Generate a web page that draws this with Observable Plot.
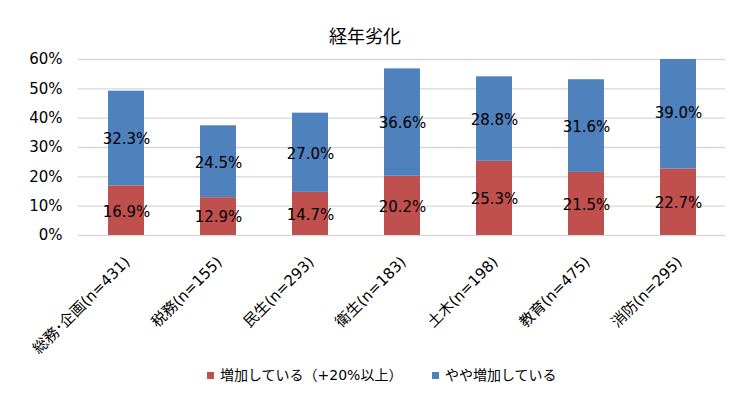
<!DOCTYPE html>
<html>
<head>
<meta charset="utf-8">
<script src="https://cdn.jsdelivr.net/npm/d3@7"></script>
<script src="https://cdn.jsdelivr.net/npm/@observablehq/plot@0.6"></script>
<style>
  html, body { margin: 0; padding: 0; background: #fff; }
  body { width: 750px; height: 399px; overflow: hidden; font-family: "DejaVu Sans", "Noto Sans CJK JP", sans-serif; }
  #title { height: 48px; box-sizing: border-box; padding-top: 24px; text-align: center; font-size: 18px; line-height: 22px; color: #000; font-family: "Noto Sans CJK JP", sans-serif; }
  #title span { position: relative; left: -10px; }
  #legend { height: 44px; box-sizing: border-box; padding-top: 10px; line-height: 20px; font-size: 14px; color: #000; position: relative; }
  .item { position: absolute; top: 10px; white-space: nowrap; }
  .sw { display: inline-block; width: 7px; height: 7px; margin-right: 6px; vertical-align: 1px; }
</style>
</head>
<body>
<div id="title"><span>経年劣化</span></div>
<div id="chart"></div>
<div id="legend"></div>
<script>
const title = "経年劣化";
const categories = ["総務･企画(n=431)", "税務(n=155)", "民生(n=293)", "衛生(n=183)", "土木(n=198)", "教育(n=475)", "消防(n=295)"];
const seriesNames = ["増加している（+20%以上）", "やや増加している"];
const increased = [16.9, 12.9, 14.7, 20.2, 25.3, 21.5, 22.7];
const slightlyIncreased = [32.3, 24.5, 27.0, 36.6, 28.8, 31.6, 39.0];
const yTicks = [0, 10, 20, 30, 40, 50, 60];
const colors = ["#C0504D", "#4F81BD"];

const data = [];
categories.forEach((c, i) => {
  data.push({category: c, series: seriesNames[0], value: increased[i]});
  data.push({category: c, series: seriesNames[1], value: slightlyIncreased[i]});
});

const chart = Plot.plot({
  width: 750,
  height: 307,
  marginTop: 11,
  marginBottom: 120,
  marginLeft: 78,
  marginRight: 25,
  style: {fontFamily: '"DejaVu Sans", "Noto Sans CJK JP", sans-serif', fontSize: "15px", color: "#000", background: "#fff", overflow: "visible"},
  x: {domain: categories, paddingInner: 0.61, paddingOuter: 0.305, label: null, axis: null},
  y: {domain: [0, 60], label: null, axis: null},
  color: {domain: seriesNames, range: colors},
  marks: [
    Plot.ruleY(yTicks, {stroke: "#d9d9d9", strokeWidth: 1.3}),
    Plot.barY(data, {x: "category", y: "value", fill: "series", order: seriesNames, clip: true}),
    Plot.text(data, Plot.stackY({x: "category", y: "value", z: "series", order: seriesNames, text: d => d.value.toFixed(1) + "%", fill: "#000", fontSize: 15, dy: 1})),
    Plot.axisY({ticks: yTicks, tickFormat: d => d + "%", tickSize: 0, tickPadding: 16, fontSize: 15, fill: "#000"}),
    Plot.text(categories, {x: d => d, frameAnchor: "bottom", rotate: -45, textAnchor: "end", lineAnchor: "middle", dy: 24, dx: 1, fontSize: 15, fill: "#000"})
  ]
});
document.getElementById("chart").appendChild(chart);

const legend = document.getElementById("legend");
const lx = [207, 432];
seriesNames.forEach((s, i) => {
  const it = document.createElement("div");
  it.className = "item";
  it.style.left = lx[i] + "px";
  it.innerHTML = `<span class="sw" style="background:${colors[i]}"></span>${s}`;
  legend.appendChild(it);
});
</script>
</body>
</html>
